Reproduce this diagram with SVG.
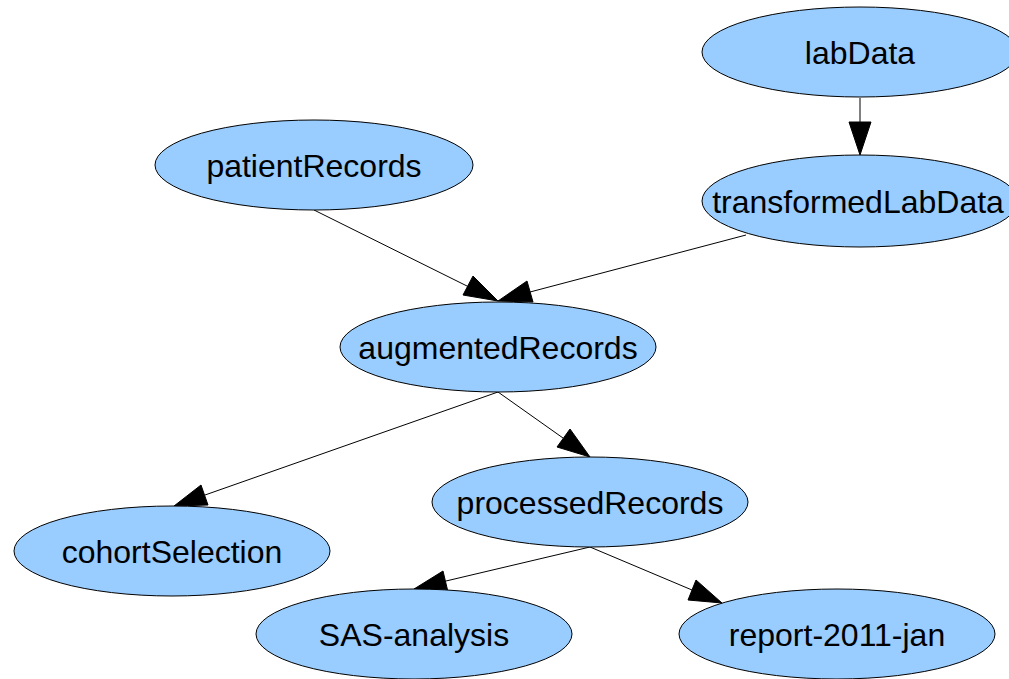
<svg xmlns="http://www.w3.org/2000/svg" width="1009" height="679" viewBox="0 0 1009 679">
<style>
.node ellipse{fill:#99ccff;stroke:#000;stroke-width:1}
.node text{font-family:"Liberation Sans",Arial,sans-serif;font-size:32px;fill:#000;text-anchor:middle}
.edge line{stroke:#000;stroke-width:1}
.edge polygon{fill:#000;stroke:#000}
</style>
<rect width="1009" height="679" fill="#fff"/>
<g id="edges" class="edge">
<line x1="860" y1="98" x2="860" y2="123"/>
<polygon points="860,155 849,122 871,122"/>
<line x1="314" y1="210" x2="469" y2="287"/>
<polygon points="498,301 463,295 473,276"/>
<line x1="746" y1="235" x2="530" y2="292"/>
<polygon points="498,301 527,281 533,302"/>
<line x1="498" y1="392" x2="205" y2="495"/>
<polygon points="174,506 201,485 208,505"/>
<line x1="498" y1="392" x2="563" y2="438"/>
<polygon points="590,457 557,447 570,429"/>
<line x1="590" y1="547" x2="446" y2="581"/>
<polygon points="414,589 443,571 448,592"/>
<line x1="590" y1="547" x2="692" y2="590"/>
<polygon points="722,603 688,600 696,580"/>
</g>
<g id="labData" class="node"><ellipse cx="860" cy="52" rx="158" ry="45"/><text x="860" y="64">labData</text></g>
<g id="transformedLabData" class="node"><ellipse cx="860" cy="201" rx="158" ry="46"/><text x="858" y="213">transformedLabData</text></g>
<g id="patientRecords" class="node"><ellipse cx="314" cy="165" rx="159" ry="45"/><text x="314" y="177">patientRecords</text></g>
<g id="augmentedRecords" class="node"><ellipse cx="498" cy="347" rx="158" ry="45"/><text x="498" y="359">augmentedRecords</text></g>
<g id="cohortSelection" class="node"><ellipse cx="172" cy="551" rx="158" ry="45"/><text x="172" y="563">cohortSelection</text></g>
<g id="processedRecords" class="node"><ellipse cx="590" cy="502" rx="158" ry="45"/><text x="590" y="514">processedRecords</text></g>
<g id="SAS-analysis" class="node"><ellipse cx="414" cy="634" rx="158" ry="45"/><text x="414" y="646">SAS-analysis</text></g>
<g id="report-2011-jan" class="node"><ellipse cx="837" cy="634" rx="158" ry="45"/><text x="837" y="646">report-2011-jan</text></g>
</svg>
